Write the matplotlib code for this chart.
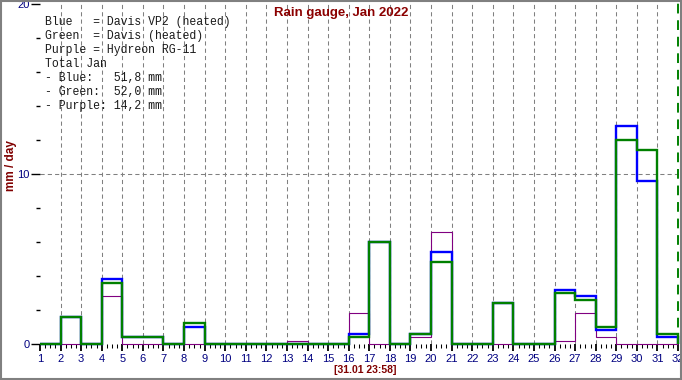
import matplotlib
matplotlib.use("Agg")
import matplotlib.pyplot as plt
from matplotlib.ticker import MultipleLocator, FixedLocator
from matplotlib.patches import Rectangle
import numpy as np

# ---- data (mm per day, Jan 2022; bar i spans day i .. i+1) ----
days = list(range(1, 33))          # bin edges: day 1 .. day 32
green = [0, 1.6, 0, 3.6, 0.43, 0.43, 0, 1.22, 0, 0, 0, 0, 0, 0, 0,
         0.43, 6.0, 0, 0.59, 4.82, 0, 0, 2.43, 0, 0, 3.02, 2.59, 1.02,
         12.0, 11.41, 0.59]
blue = [0, 1.6, 0, 3.85, 0.43, 0.43, 0, 1.02, 0, 0, 0, 0, 0, 0, 0,
        0.59, 6.0, 0, 0.59, 5.41, 0, 0, 2.43, 0, 0, 3.18, 2.84, 0.82,
        12.84, 9.6, 0.43]
purple = [0, 0, 0, 2.8, 0, 0, 0, 0, 0, 0, 0, 0, 0.17, 0, 0,
          1.8, 0, 0, 0.39, 6.57, 0, 0, 0, 0, 0, 0.16, 1.8, 0.39,
          0, 0, 0]
xticks = list(range(1, 33))
yticks = [0, 10, 20]
title = "Rain gauge, Jan 2022"
ylabel = "mm / day"
stamp = "[31.01 23:58]"
legend_lines = [
    "Blue   = Davis VP2 (heated)",
    "Green  = Davis (heated)",
    "Purple = Hydreon RG-11",
    "Total Jan",
    "- Blue:   51,8 mm",
    "- Green:  52,0 mm",
    "- Purple: 14,2 mm",
]

W, H = 682, 380
fig = plt.figure(figsize=(W / 100, H / 100), dpi=100)
fig.patch.set_facecolor("white")

ax_l, ax_r, ax_b, ax_t = 40, 680, 344, 2
ax = fig.add_axes([ax_l / W, (H - ax_b) / H, (ax_r - ax_l) / W, (ax_b - ax_t) / H])
px_per_day = (678 - 40) / 31.0
ax.set_xlim(1, 1 + (ax_r - ax_l) / px_per_day)
ax.set_ylim(0, (ax_b - ax_t) / 17.0)
for s in ax.spines.values():
    s.set_visible(False)

# grid
for d in range(2, 32):
    ax.axvline(d, color="#808080", lw=0.75, dashes=(4, 3), zorder=1)
ax.axhline(10, xmin=0, xmax=(32 - 1) / (ax.get_xlim()[1] - 1),
           color="#808080", lw=0.75, dashes=(4, 3), zorder=1)
ax.axvline(32, color="#008000", lw=1.4, dashes=(5, 3.5), zorder=2)

# series
ax.stairs(purple, days, baseline=0, color="#800080", lw=0.8, zorder=3, clip_on=False)
ax.stairs(blue, days, baseline=0, color="#0000FF", lw=1.7, zorder=4, clip_on=False)
ax.stairs(green, days, baseline=0, color="#008000", lw=1.7, zorder=5, clip_on=False)

# ticks
ax.xaxis.set_major_locator(FixedLocator(xticks))
ax.xaxis.set_minor_locator(MultipleLocator(0.25))
ax.yaxis.set_major_locator(FixedLocator(yticks))
ax.yaxis.set_minor_locator(MultipleLocator(2))
ax.tick_params(axis="x", which="major", direction="out", length=5, width=1.3,
               color="black", pad=2.2, labelsize=8, labelcolor="#000080")
ax.tick_params(axis="x", which="minor", direction="out", length=3.2, width=0.75,
               color="black")
ax.tick_params(axis="y", which="major", direction="out", length=6.5, width=1.0,
               color="black", pad=0.8, labelsize=8, labelcolor="#000080")
ax.tick_params(axis="y", which="minor", direction="out", length=3, width=1.0,
               color="black")
for lab in ax.get_xticklabels() + ax.get_yticklabels():
    lab.set_family("Liberation Sans")

# texts
fig.text(341 / W, 1 - 13 / H, title, ha="center", va="center", color="#8B0000",
         fontsize=9.5, fontweight="bold", family="Liberation Sans")
fig.text(11 / W, 1 - 166 / H, ylabel, ha="center", va="center", rotation=90,
         color="#800000", fontsize=8.5, fontweight="bold", family="Liberation Sans")
fig.text(365 / W, 1 - 370 / H, stamp, ha="center", va="center", color="#800000",
         fontsize=7.5, fontweight="bold", family="Liberation Sans")
y0 = 22
for i, line in enumerate(legend_lines):
    fig.text(45 / W, 1 - (y0 + 14 * i) / H, line, ha="left", va="center",
             color="#1a1a1a", fontsize=8.3, family="Liberation Mono")

# outer frame
fig.patches.append(Rectangle((0.5 / W, 1.5 / H), (W - 1.5) / W, (H - 2.5) / H,
                             transform=fig.transFigure, fill=False,
                             edgecolor="#808080", lw=1.5))

fig.savefig("out.png", dpi=100)
